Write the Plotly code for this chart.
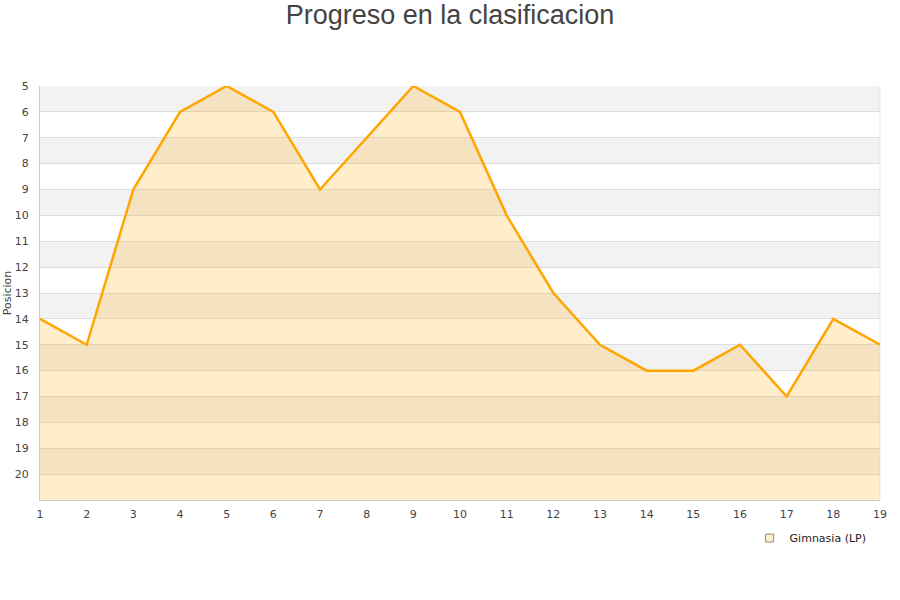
import plotly.graph_objects as go

jornadas = list(range(1, 20))
posiciones = [14, 15, 9, 6, 5, 6, 9, 7, 5, 6, 10, 13, 15, 16, 16, 15, 17, 14, 15]
equipo = "Gimnasia (LP)"
titulo = "Progreso en la clasificacion"
y_ticks = list(range(5, 21))
y_min, y_max = 5, 21

fig = go.Figure()

# baseline for fill
fig.add_trace(go.Scatter(x=jornadas, y=[y_max] * len(jornadas), mode="lines",
                         line=dict(width=0), showlegend=False, hoverinfo="skip"))
fig.add_trace(go.Scatter(x=jornadas, y=posiciones, mode="lines", fill="tonexty",
                         fillcolor="rgba(255,165,0,0.2)",
                         line=dict(color="#FFA500", width=2.5),
                         showlegend=False, name=equipo))
# legend entry
fig.add_trace(go.Scatter(x=[None], y=[None], mode="markers", name=equipo,
                         marker=dict(symbol="square", size=8, color="#ffedcc",
                                     line=dict(color="#9a8a6a", width=1))))

shapes = []
for k in range(y_min, y_max - 1, 2):
    shapes.append(dict(type="rect", xref="paper", yref="y", x0=0, x1=1, y0=k, y1=k + 1,
                       fillcolor="#f2f2f2", line=dict(width=0), layer="below"))
shapes.append(dict(type="line", xref="paper", yref="paper", x0=1, x1=1, y0=0, y1=1,
                   line=dict(color="#e6e6e6", width=1), layer="below"))

fig.update_layout(
    width=900, height=600,
    paper_bgcolor="white", plot_bgcolor="white",
    margin=dict(l=40, r=20, t=86, b=100),
    title=dict(text=titulo, x=0.5, xanchor="center", y=0.975, yanchor="middle",
               font=dict(family="Liberation Sans, Arial, sans-serif", size=27, color="#444444")),
    font=dict(family="DejaVu Sans, sans-serif", size=11, color="#444444"),
    shapes=shapes,
    showlegend=True,
    legend=dict(x=0.99, xanchor="right", y=-0.092, yanchor="middle",
                font=dict(size=11, color="#222222"), bgcolor="rgba(0,0,0,0)",
                itemwidth=30),
    xaxis=dict(range=[1, 19], tickmode="array", tickvals=jornadas, showgrid=False,
               zeroline=False, showline=True, linecolor="#cccccc", linewidth=1,
               ticks="", automargin=False, ticklabelstandoff=4,
               tickfont=dict(size=11, color="#444444")),
    yaxis=dict(range=[y_max, y_min], tickmode="array", tickvals=y_ticks,
               showgrid=True, gridcolor="#dddddd", gridwidth=1, zeroline=False,
               showline=True, linecolor="#cccccc", linewidth=1, ticks="",
               ticklabelstandoff=8, automargin=False,
               title=dict(text="Posicion", font=dict(size=11, color="#444444"), standoff=0),
               tickfont=dict(size=11, color="#444444")),
)

fig.write_html("out.html", config={"displayModeBar": False},
               post_script="document.body.style.margin='0';")
